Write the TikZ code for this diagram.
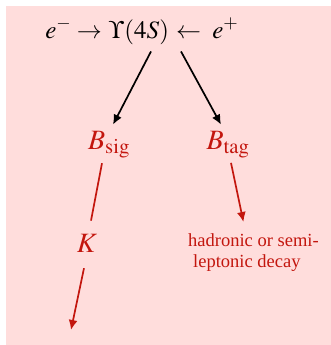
\documentclass[tikz,border=0pt]{standalone}
\usepackage{mathptmx}
\usepackage[no-math]{fontspec}
\setmainfont{Liberation Serif}
\usetikzlibrary{arrows.meta}
\definecolor{bgpink}{RGB}{255,221,220}
\definecolor{decred}{RGB}{195,22,14}
\newcommand{\Bsig}{B_{\mathrm{sig}}}
\newcommand{\Btag}{B_{\mathrm{tag}}}
\newcommand{\Ufour}{\Upsilon(4S)}

\begin{document}
\begin{tikzpicture}[x=1pt,y=-1pt,
  beam/.style={inner sep=0pt,font=\fontsize{25}{30}\selectfont},
  part/.style={inner sep=0pt,text=decred,font=\fontsize{28}{32}\selectfont},
  info/.style={inner sep=0pt,text=decred,align=left,font=\fontsize{18.5}{21}\selectfont},
  prod/.style={-{Latex[length=10pt,width=9pt]},line width=1.7pt},
  chain/.style={line width=1.7pt,draw=decred},
  chainarr/.style={chain,-{Latex[length=10pt,width=9pt]}}]
 \useasboundingbox (0,0) rectangle (331,345);
 \fill[bgpink] (6,6) rectangle (331,345);
 % beams and resonance
 \node[beam,anchor=base] (ups) at (139,38) {$\Ufour$};
 \node[beam,anchor=base east] (em) at (102,38) {$e^-\mkern4mu\mathord{\rightarrow}$};
 \node[beam,anchor=base west] (ep) at (176,38) {$\mathord{\leftarrow}\mkern8mu e^+$};
 % the two B mesons
 \node[part,anchor=base] (bsig) at (109,149) {$\Bsig$};
 \node[part,anchor=base] (btag) at (228,149) {$\Btag$};
 \node[part,anchor=base] (k) at (87,252) {$K$};
 \node[info,anchor=north west] (dec) at (188,233) {hadronic or semi-\\\hspace*{5pt}leptonic decay};
 \coordinate (kend) at (71,330);
 \draw[prod] ([shift={(12,7)}]ups.south) -- ([shift={(4,-6)}]bsig.north);
 \draw[prod] ([shift={(42,7)}]ups.south) -- ([shift={(-7,-6)}]btag.north);
 \draw[chain] ([shift={(-7,5)}]bsig.south) -- ([shift={(4,-13)}]k.north);
 \draw[chainarr] ([shift={(-3,16)}]k.south) -- (kend);
 \draw[chainarr] ([shift={(3,5)}]btag.south) -- ([shift={(-10,-11)}]dec.north);
\end{tikzpicture}
\end{document}
